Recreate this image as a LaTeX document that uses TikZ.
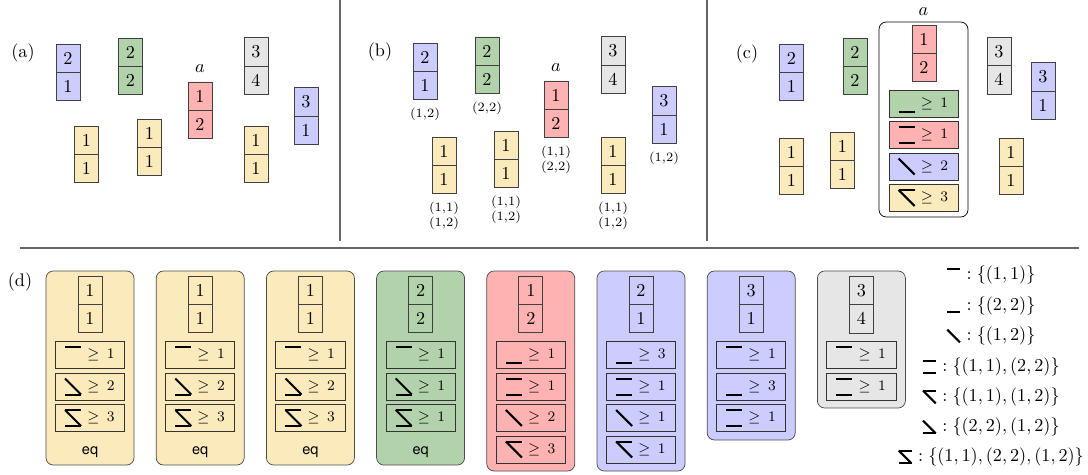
\documentclass[tikz,border=0pt]{standalone}
\usepackage{fontspec}
\newfontfamily\eqfont{TeX Gyre Heros}
\usetikzlibrary{positioning,shapes.multipart}

\definecolor{cblue}{RGB}{204,204,255}
\definecolor{cgreen}{RGB}{178,210,172}
\definecolor{cred}{RGB}{255,178,178}
\definecolor{cyellow}{RGB}{250,234,188}
\definecolor{cgray}{RGB}{230,230,230}

\tikzset{
  tile/.style={rectangle split, rectangle split parts=2, draw=black!75,
    inner xsep=0pt, inner ysep=4.2pt, minimum width=13.2pt, outer sep=0pt},
  crow/.style={draw=black!80, minimum width=38pt, minimum height=14.85pt,
    inner xsep=5.5pt, inner ysep=0pt, text width=27pt, align=right,
    font=\footnotesize},
  lab/.style={font=\scriptsize, align=center, inner sep=0pt},
  panel/.style={rounded corners=4pt, draw=black!70},
  keytext/.style={inner sep=0pt},
  eqtext/.style={font=\eqfont\fontsize{8}{9}\selectfont},
  markline/.style={line width=1.1pt, black},
  sep/.style={draw=black!60, line width=0.8pt},
  pics/glyph/.style={code={#1}}
}
% the three strokes of a glyph
\newcommand{\gtop}{\draw[markline] (0,-8) -- (16,-8);}
\newcommand{\gbot}{\draw[markline] (0,8) -- (16,8);}
\newcommand{\gdia}{\draw[markline] (0,-8) -- (16,8);}
% name, position, fill, top digit, bottom digit
\newcommand{\tilenode}[5]{\node[tile, fill=#3] (#1) at #2 {#4\nodepart{two}#5};}
% name, position, fill, strokes, bound
\newcommand{\conrow}[5]{%
  \node[crow, fill=#3] (#1) at #2 {$\geq #5$};
  \pic at ([xshift=5.5pt]#1.west) {glyph={#4}};}

\begin{document}
\begin{tikzpicture}[x=0.55pt,y=-0.55pt]
  \useasboundingbox (0,0) rectangle (1088,474);

  % separators
  \draw[sep] (340,0) -- (340,241);
  \draw[sep] (707,0) -- (707,241);
  \draw[sep] (20,248) -- (1079,248);

  % (a)
  \node (la) at (23,53) {(a)};
  \tilenode{a1}{(68,72)}{cblue}{2}{1}
  \tilenode{a2}{(130.5,66)}{cgreen}{2}{2}
  \tilenode{a3}{(200,110)}{cred}{1}{2}
  \node[above=1.5pt of a3] (aa) {$a$};
  \tilenode{a4}{(256,66)}{cgray}{3}{4}
  \tilenode{a5}{(306,116)}{cblue}{3}{1}
  \tilenode{a6}{(86.5,154)}{cyellow}{1}{1}
  \tilenode{a7}{(149.5,147.5)}{cyellow}{1}{1}
  \tilenode{a8}{(256,154)}{cyellow}{1}{1}

  % (b)
  \node (lb) at (380,52) {(b)};
  \tilenode{b1}{(425,71)}{cblue}{2}{1}
  \tilenode{b2}{(487,65)}{cgreen}{2}{2}
  \tilenode{b3}{(556,109)}{cred}{1}{2}
  \node[above=1.5pt of b3] (ba) {$a$};
  \tilenode{b4}{(613,65)}{cgray}{3}{4}
  \tilenode{b5}{(664,115)}{cblue}{3}{1}
  \tilenode{b6}{(444,165)}{cyellow}{1}{1}
  \tilenode{b7}{(506,159)}{cyellow}{1}{1}
  \tilenode{b8}{(613,165)}{cyellow}{1}{1}
  \node[lab, below=4.7pt of b1] (b1l) {(1,2)};
  \node[lab, below=4.7pt of b2] (b2l) {(2,2)};
  \node[lab, below=4.7pt of b3] (b3l) {(1,1)\\(2,2)};
  \node[lab, below=4.7pt of b5] (b5l) {(1,2)};
  \node[lab, below=4.7pt of b6] (b6l) {(1,1)\\(1,2)};
  \node[lab, below=4.7pt of b7] (b7l) {(1,1)\\(1,2)};
  \node[lab, below=4.7pt of b8] (b8l) {(1,1)\\(1,2)};

  % (c)
  \node (lc) at (747,54) {(c)};
  \tilenode{c1}{(791.5,72)}{cblue}{2}{1}
  \tilenode{c2}{(855,66)}{cgreen}{2}{2}
  \node[panel, draw=black, fill=white, minimum width=48.95pt, minimum height=107.25pt]
    (cbox) at (923.5,119.5) {};
  \node[above=0pt of cbox] (ca) {$a$};
  \tilenode{c3}{(924,53.5)}{cred}{1}{2}
  \conrow{c3r1}{(923.5,103.5)}{cgreen}{\gbot}{1}
  \conrow{c3r2}{(923.5,135)}{cred}{\gtop\gbot}{1}
  \conrow{c3r3}{(923.5,166.5)}{cblue}{\gdia}{2}
  \conrow{c3r4}{(923.5,198)}{cyellow}{\gtop\gdia}{3}
  \tilenode{c4}{(999,65.5)}{cgray}{3}{4}
  \tilenode{c5}{(1043,91)}{cblue}{3}{1}
  \tilenode{c6}{(791.5,166)}{cyellow}{1}{1}
  \tilenode{c7}{(842.5,160)}{cyellow}{1}{1}
  \tilenode{c8}{(1011,166)}{cyellow}{1}{1}

  % (d)
  \node (ld) at (20,282) {(d)};
  \foreach \i/\cx in {0/90,1/200.2,2/310.4}{
    \draw[panel, fill=cyellow] (\cx-44,271) rectangle (\cx+44,465);
    \tilenode{d\i}{(\cx,304.5)}{cyellow}{1}{1}
    \conrow{d\i r1}{(\cx,355)}{none}{\gtop}{1}
    \conrow{d\i r2}{(\cx,386.5)}{none}{\gbot\gdia}{2}
    \conrow{d\i r3}{(\cx,418)}{none}{\gtop\gbot\gdia}{3}
    \node[eqtext] (d\i eq) at (\cx,452) {eq};
  }
  \draw[panel, fill=cgreen] (376.6,271) rectangle (464.6,465);
  \tilenode{d3}{(420.6,304.5)}{cgreen}{2}{2}
  \conrow{d3r1}{(420.6,355)}{none}{\gtop}{1}
  \conrow{d3r2}{(420.6,386.5)}{none}{\gbot\gdia}{1}
  \conrow{d3r3}{(420.6,418)}{none}{\gtop\gbot\gdia}{1}
  \node[eqtext] (d3eq) at (420.6,452) {eq};

  \draw[panel, fill=cred] (486.8,271) rectangle (574.8,471);
  \tilenode{d4}{(530.8,304.5)}{cred}{1}{2}
  \conrow{d4r1}{(530.8,355)}{none}{\gbot}{1}
  \conrow{d4r2}{(530.8,386.5)}{none}{\gtop\gbot}{1}
  \conrow{d4r3}{(530.8,418)}{none}{\gdia}{2}
  \conrow{d4r4}{(530.8,449.5)}{none}{\gtop\gdia}{3}

  \draw[panel, fill=cblue] (597,271) rectangle (685,471);
  \tilenode{d5}{(641,304.5)}{cblue}{2}{1}
  \conrow{d5r1}{(641,355)}{none}{\gbot}{3}
  \conrow{d5r2}{(641,386.5)}{none}{\gtop\gbot}{1}
  \conrow{d5r3}{(641,418)}{none}{\gdia}{1}
  \conrow{d5r4}{(641,449.5)}{none}{\gtop\gdia}{1}

  \draw[panel, fill=cblue] (707.2,271) rectangle (795.2,440);
  \tilenode{d6}{(751.2,304.5)}{cblue}{3}{1}
  \conrow{d6r1}{(751.2,355)}{none}{\gtop}{1}
  \conrow{d6r2}{(751.2,386.5)}{none}{\gbot}{3}
  \conrow{d6r3}{(751.2,418)}{none}{\gtop\gbot}{1}

  \draw[panel, fill=cgray] (817.4,271) rectangle (905.4,408);
  \tilenode{d7}{(861.4,304.5)}{cgray}{3}{4}
  \conrow{d7r1}{(861.4,355)}{none}{\gtop}{1}
  \conrow{d7r2}{(861.4,386.5)}{none}{\gtop\gbot}{1}

  % key
  \foreach \n/\y/\g/\s in {1/275/\gtop/{(1,1)},
      2/306/\gbot/{(2,2)},
      3/336/\gdia/{(1,2)},
      4/367/\gtop\gbot/{(1,1),(2,2)},
      5/397/\gtop\gdia/{(1,1),(1,2)},
      6/427/\gbot\gdia/{(2,2),(1,2)},
      7/457/\gtop\gbot\gdia/{(1,1),(2,2),(1,2)}}{
    \node[keytext] (k\n) at (1001,\y) {$: \{\s\}$};
    \pic[scale=0.8] at ([xshift=-10.5pt]k\n.west) {glyph={\g}};
  }
\end{tikzpicture}
\end{document}
